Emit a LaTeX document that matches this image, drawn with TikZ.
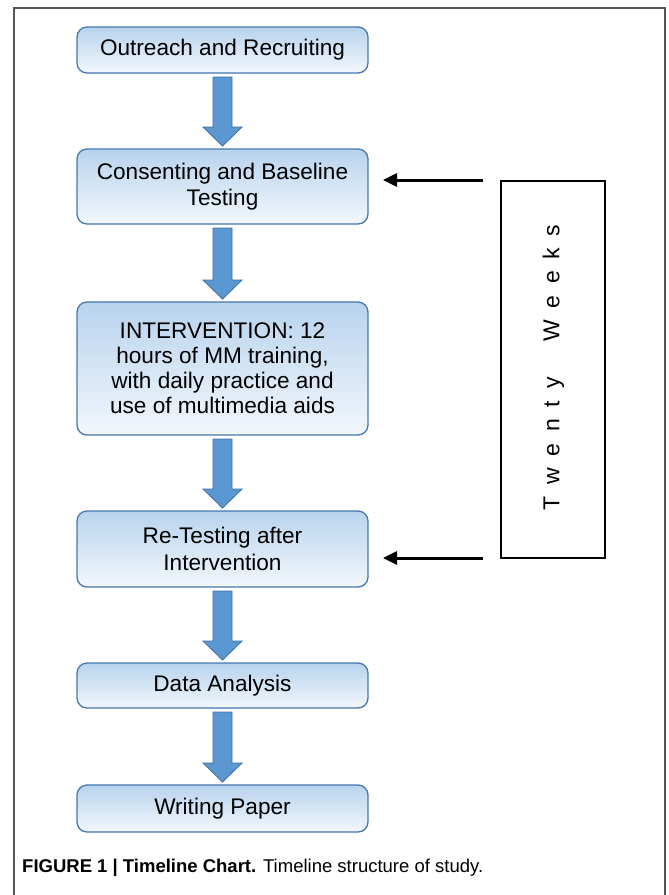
\documentclass[tikz,border=0pt]{standalone}
\usepackage{fontspec}
\setmainfont{Liberation Sans}
\usetikzlibrary{calc,arrows.meta}
\definecolor{boxtop}{HTML}{B8D3EE}
\definecolor{boxbot}{HTML}{F2F7FC}
\definecolor{boxline}{HTML}{4677AD}
\definecolor{arrfill}{HTML}{5B97D1}
\definecolor{arrline}{HTML}{3E6FA3}
\definecolor{framegray}{HTML}{555555}
\tikzset{
  stagebox/.style={draw=boxline, line width=1.3pt, rounded corners=10pt,
    top color=boxtop, bottom color=boxbot, minimum width=291pt,
    outer sep=0pt, align=center, font=\fontsize{22.6}{26.5}\selectfont},
  blockarr/.style={fill=arrfill, draw=arrline, line width=0.8pt, line join=miter},
  thinarr/.style={line width=3pt, -{Triangle[length=14pt,width=13pt]}},
}
\newcommand\blockarrow[2]{%
  \draw[blockarr] ($(#1.south)+(-9.5,4)$) -- ($(#2.north)+(-9.5,-22)$)
    -- ($(#2.north)+(-19.5,-22)$) -- ($(#2.north)+(0,-3)$)
    -- ($(#2.north)+(19.5,-22)$) -- ($(#2.north)+(9.5,-22)$)
    -- ($(#1.south)+(9.5,4)$) -- cycle;}
\newcommand\gp{\hspace{11.8pt}}
\begin{document}
\begin{tikzpicture}[x=1pt,y=-1pt]
\useasboundingbox (0,0) rectangle (669,895);
\fill[white] (0,0) rectangle (669,895);
\draw[framegray, line width=1.2pt] (14,895) -- (14,8) -- (665,8) -- (665,895);

\node[stagebox, minimum height=46pt] (b1) at (222.5,50) {Outreach and Recruiting};
\node[stagebox, minimum height=75pt] (b2) at (222.5,186.5) {Consenting and Baseline\\Testing};
\node[stagebox, minimum height=133pt, font=\fontsize{22.6}{25}\selectfont] (b3) at (222.5,368.5) {INTERVENTION: 12\\hours of MM training,\\with daily practice and\\use of multimedia aids};
\node[stagebox, minimum height=76pt] (b4) at (222.5,549) {Re-Testing after\\Intervention};
\node[stagebox, minimum height=45pt] (b5) at (222.5,685.5) {Data Analysis};
\node[stagebox, minimum height=47pt] (b6) at (222.5,808.5) {Writing Paper};

\blockarrow{b1}{b2}
\blockarrow{b2}{b3}
\blockarrow{b3}{b4}
\blockarrow{b4}{b5}
\blockarrow{b5}{b6}

\node[draw, line width=2.5pt, minimum width=104pt, minimum height=377pt, outer sep=0pt] (tw) at (553,369.5) {};
\node[rotate=90, font=\fontsize{23}{25}\selectfont] (twt) at (553.5,367.5)
  {T\gp w\gp e\gp n\gp t\gp y\gp\gp\gp W\gp e\gp e\gp k\gp s};

\coordinate (a1s) at ([xshift=-18pt,yshift=1pt]tw.north west);
\coordinate (a1e) at ($(b2.east |- a1s)+(15,0)$);
\coordinate (a2s) at ([xshift=-18pt]tw.south west);
\coordinate (a2e) at ($(b4.east |- a2s)+(15,0)$);
\draw[thinarr] (a1s) -- (a1e);
\draw[thinarr] (a2s) -- (a2e);

\node[anchor=base west, font=\fontsize{18.5}{20}\selectfont, inner sep=0pt] (cap) at (22,872)
  {\textbf{FIGURE 1 | Timeline Chart.} Timeline structure of study.};
\end{tikzpicture}
\end{document}
